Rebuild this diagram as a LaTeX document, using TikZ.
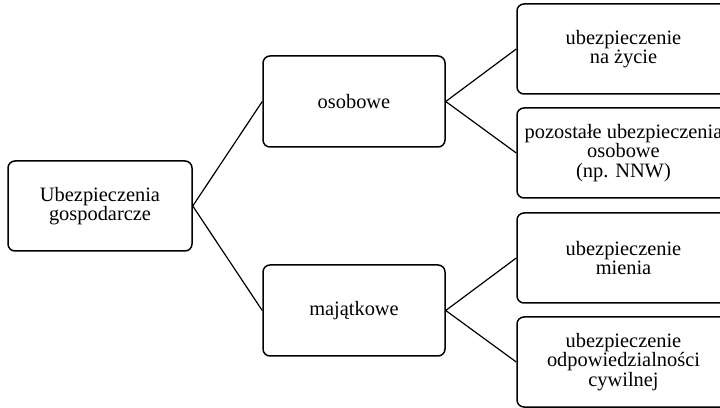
\documentclass[tikz,border=0pt]{standalone}
\usepackage{fontspec}
\setmainfont{Liberation Serif}
\begin{document}
\begin{tikzpicture}[x=1pt,y=1pt,
  box/.style={draw=black, line width=1.5pt, rounded corners=7pt, align=center,
    inner sep=0pt, font=\fontsize{20.4}{19.5}\selectfont, text=black},
  mid/.style={box, minimum width=182pt, minimum height=91pt},
  leaf/.style={box, minimum width=213pt, minimum height=90pt},
  link/.style={draw=black, line width=1.2pt}]
\useasboundingbox (0,0) rectangle (720,407);
\fill[white] (0,0) rectangle (720,407);
\clip (0,0) rectangle (720,407);
\node[box, minimum width=184pt, minimum height=90pt] (root) at (100,201) {Ubezpieczenia\\gospodarcze};
\node[mid] (os) at (354,305.5) {osobowe};
\node[mid] (ma) at (354,96.5) {majątkowe};
\node[leaf] (r1) at (623.5,358) {ubezpieczenie\\na życie};
\node[leaf] (r2) at (623.5,254) {pozostałe ubezpieczenia\\osobowe\\(np. NNW)};
\node[leaf] (r3) at (623.5,149) {ubezpieczenie\\mienia};
\node[leaf] (r4) at (623.5,45) {ubezpieczenie\\odpowiedzialności\\cywilnej};
\draw[link] (root.east) -- (os.west);
\draw[link] (root.east) -- (ma.west);
\draw[link] (os.east) -- (r1.west);
\draw[link] (os.east) -- (r2.west);
\draw[link] (ma.east) -- (r3.west);
\draw[link] (ma.east) -- (r4.west);
\end{tikzpicture}
\end{document}
